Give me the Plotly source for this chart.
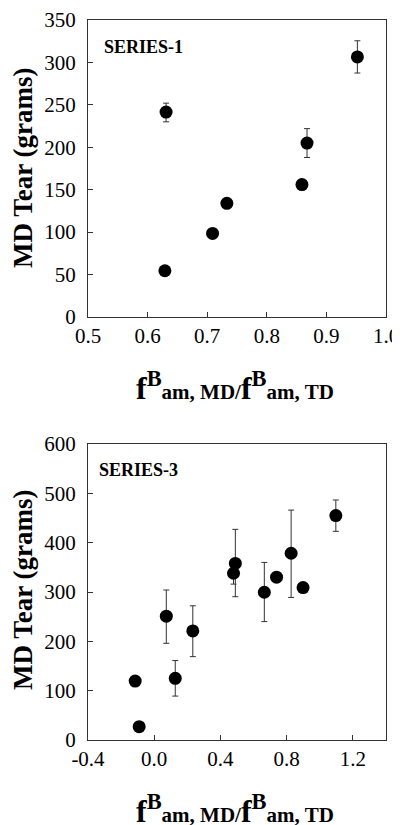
import plotly.graph_objects as go

# Series-1 data
s1_x = [0.629, 0.631, 0.709, 0.733, 0.859, 0.8675, 0.952]
s1_y = [54.5, 241.5, 98.5, 134, 156, 205, 306.5]
s1_err_plus = [0, 10.5, 0, 4, 5, 17, 19]
s1_err_minus = [0, 11.5, 0, 4, 6, 17, 19]

# Series-3 data
s3_x = [-0.115, -0.091, 0.073, 0.127, 0.233, 0.479, 0.490, 0.665, 0.739, 0.827, 0.899, 1.097]
s3_y = [119.5, 27, 251, 125, 221, 338, 358, 299.5, 330, 378.5, 309, 455]
s3_err_plus = [0, 0, 53, 36, 51, 0, 69, 60.5, 0, 87.5, 0, 31.5]
s3_err_minus = [0, 0, 55, 36, 52, 22, 67.5, 59.5, 0, 89.5, 0, 32]

s1_xticks = [0.5, 0.6, 0.7, 0.8, 0.9, 1.0]
s1_xticklabels = ["0.5", "0.6", "0.7", "0.8", "0.9", "1.0"]
s1_yticks = [0, 50, 100, 150, 200, 250, 300, 350]
s3_xticks = [-0.4, 0.0, 0.4, 0.8, 1.2]
s3_xticklabels = ["-0.4", "0.0", "0.4", "0.8", "1.2"]
s3_yticks = [0, 100, 200, 300, 400, 500, 600]

FONT = "Liberation Serif"
W, H = 400, 825
OFF = 8  # page body margin offset

fig = go.Figure()

marker = dict(color="black", size=13)
err_style = dict(type="data", symmetric=False, color="#333", thickness=1, width=3)

fig.add_trace(go.Scatter(
    x=s1_x, y=s1_y, mode="markers", marker=marker,
    error_y=dict(array=s1_err_plus, arrayminus=s1_err_minus, **err_style),
    xaxis="x", yaxis="y", showlegend=False))
fig.add_trace(go.Scatter(
    x=s3_x, y=s3_y, mode="markers", marker=marker,
    error_y=dict(array=s3_err_plus, arrayminus=s3_err_minus, **err_style),
    xaxis="x2", yaxis="y2", showlegend=False))

axis_common = dict(
    showline=True, linecolor="#333", linewidth=1, mirror=True,
    ticks="inside", ticklen=5, tickcolor="#333", tickwidth=1,
    showgrid=False, zeroline=False, automargin=False,
    tickfont=dict(family=FONT, size=21, color="black"),
)


def px_x(v):
    return (v - OFF) / W


def px_y(v):
    return 1 - (v - OFF) / H


x_dom = [px_x(88), px_x(386)]
fig.update_layout(
    width=W, height=H,
    margin=dict(l=0, r=0, t=0, b=0),
    paper_bgcolor="white", plot_bgcolor="white",
    xaxis=dict(domain=x_dom, range=[0.5, 1.0], tickmode="array", tickvals=s1_xticks,
               ticktext=s1_xticklabels, tickformat=".1f", anchor="y", **axis_common),
    yaxis=dict(domain=[px_y(317), px_y(20)], range=[0, 350], tickmode="array",
               tickvals=s1_yticks, anchor="x", ticklabelstandoff=7, **axis_common),
    xaxis2=dict(domain=x_dom, range=[-0.4, 1.4], tickmode="array", tickvals=s3_xticks,
                ticktext=s3_xticklabels, tickformat=".1f", anchor="y2", **axis_common),
    yaxis2=dict(domain=[px_y(740), px_y(444)], range=[0, 600], tickmode="array",
                tickvals=s3_yticks, anchor="x2", ticklabelstandoff=7, **axis_common),
)

SMALL = "<span style='font-size:21px'>"
xtitle = ("<b>f<sup>B</sup>" + SMALL + "am, MD/</span>f<sup>B</sup>"
          + SMALL + "am, TD</span></b>")
title_font = dict(family=FONT, size=32, color="black")
ytitle_font = dict(family=FONT, size=27, color="black")
xc = px_x(235)
annots = [
    dict(text=xtitle, x=xc, y=px_y(386), xref="paper", yref="paper",
         showarrow=False, font=title_font, xanchor="center", yanchor="middle"),
    dict(text=xtitle, x=xc, y=px_y(809), xref="paper", yref="paper",
         showarrow=False, font=title_font, xanchor="center", yanchor="middle"),
    dict(text="<b>MD Tear (grams)</b>", x=px_x(23), y=px_y(168), xref="paper", yref="paper",
         showarrow=False, font=ytitle_font, textangle=-90,
         xanchor="center", yanchor="middle"),
    dict(text="<b>MD Tear (grams)</b>", x=px_x(23), y=px_y(590), xref="paper", yref="paper",
         showarrow=False, font=ytitle_font, textangle=-90,
         xanchor="center", yanchor="middle"),
    dict(text="<b>SERIES-1</b>", x=px_x(102), y=px_y(47), xref="paper", yref="paper",
         showarrow=False, font=dict(family=FONT, size=18, color="black"),
         xanchor="left", yanchor="middle"),
    dict(text="<b>SERIES-3</b>", x=px_x(97), y=px_y(470), xref="paper", yref="paper",
         showarrow=False, font=dict(family=FONT, size=18, color="black"),
         xanchor="left", yanchor="middle"),
]
fig.update_layout(annotations=annots)

fig.write_html("out.html")
